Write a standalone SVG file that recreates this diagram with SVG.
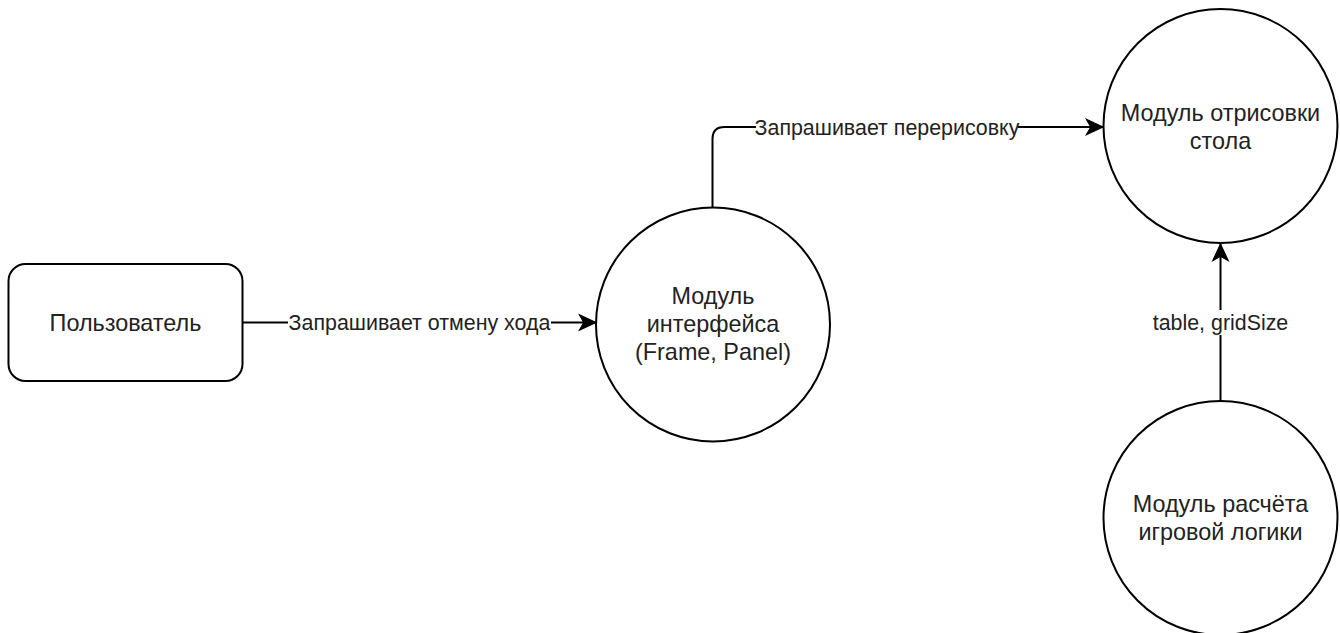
<svg xmlns="http://www.w3.org/2000/svg" width="1340" height="633" viewBox="0 0 1340 633">
<style>
.node{fill:#fff;stroke:#000;stroke-width:2}
.nt{font-family:"Liberation Sans",Arial,sans-serif;font-size:23.4px;fill:#222;text-anchor:middle}
.edge{fill:none;stroke:#000;stroke-width:2}
.lt{font-family:"Liberation Sans",Arial,sans-serif;font-size:21.4px;fill:#222;text-anchor:middle}
.lbg{fill:#fff}
</style>
<defs>
<marker id="arr" markerUnits="userSpaceOnUse" markerWidth="20" markerHeight="20" viewBox="-16 -8 18 16" refX="0" refY="0" orient="auto">
<path d="M0,0 L-15,-7 L-11,0 L-15,7 Z" fill="#000" stroke="#000" stroke-width="1"/>
</marker>
</defs>
<rect width="1340" height="633" fill="#fff"/>
<g id="connectors">
<g id="e1">
<path class="edge" d="M243,322.5 L596,322.5" marker-end="url(#arr)"/>
<rect class="lbg" x="288" y="310" width="263" height="25"/>
<text class="lt" x="419.5" y="330">Запрашивает отмену хода</text>
</g>
<g id="e2">
<path class="edge" d="M712.5,207 L712.5,139 Q712.5,127 724.5,127 L1103,127" marker-end="url(#arr)"/>
<rect class="lbg" x="756" y="114" width="262" height="25"/>
<text class="lt" x="887" y="134.5">Запрашивает перерисовку</text>
</g>
<g id="e3">
<path class="edge" d="M1220.5,401 L1220.5,244" marker-end="url(#arr)"/>
<rect class="lbg" x="1150" y="310" width="141" height="25"/>
<text class="lt" x="1220.5" y="330">table, gridSize</text>
</g>
</g>
<g id="user">
<rect class="node" x="8.5" y="264" width="234" height="117" rx="17" ry="17"/>
<text class="nt" x="125.5" y="330.5">Пользователь</text>
</g>
<g id="ui">
<circle class="node" cx="713" cy="324.5" r="117"/>
<text class="nt" x="713" y="304">Модуль</text>
<text class="nt" x="713" y="332">интерфейса</text>
<text class="nt" x="713" y="360">(Frame, Panel)</text>
</g>
<g id="render">
<circle class="node" cx="1220.5" cy="126" r="117"/>
<text class="nt" x="1220.5" y="121">Модуль отрисовки</text>
<text class="nt" x="1220.5" y="149">стола</text>
</g>
<g id="logic">
<circle class="node" cx="1220.5" cy="518" r="117"/>
<text class="nt" x="1220.5" y="512">Модуль расчёта</text>
<text class="nt" x="1220.5" y="540">игровой логики</text>
</g>
</svg>
